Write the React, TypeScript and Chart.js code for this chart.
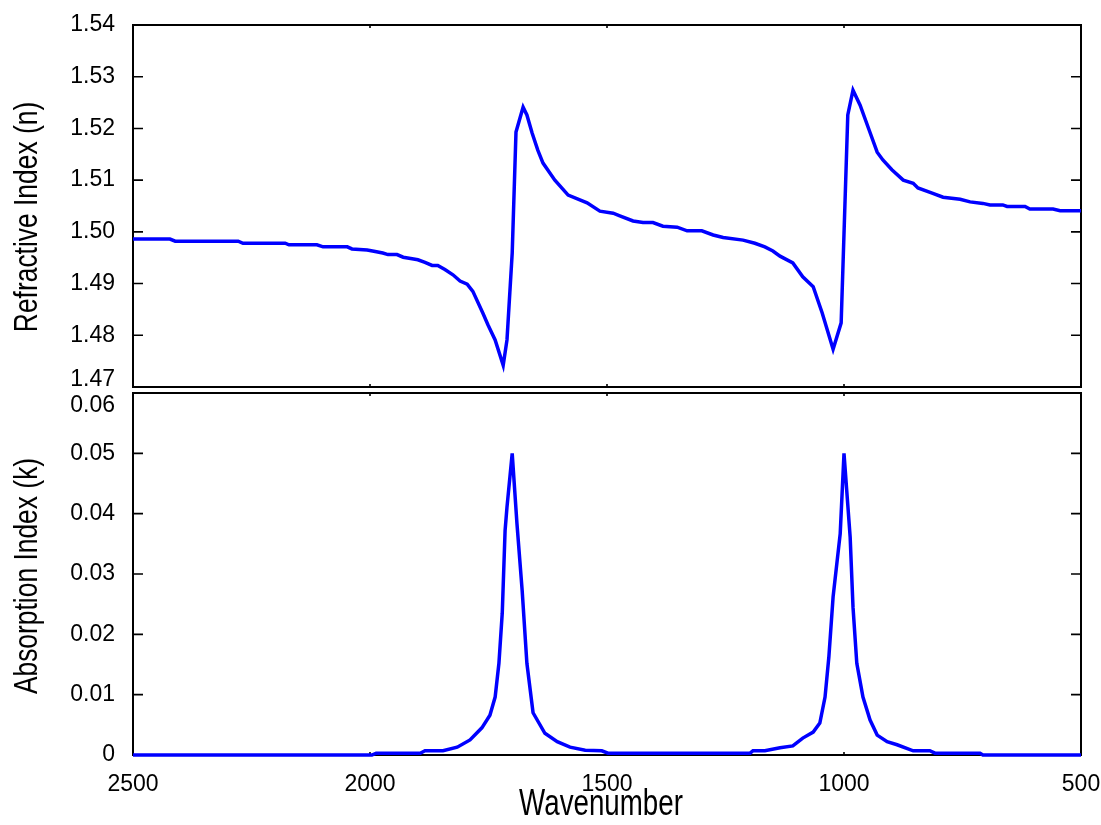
import React, { useEffect, useRef } from 'react';
import { Chart, registerables } from 'chart.js';

Chart.register(...registerables);

// Shared wavenumber axis (cm^-1), drawn high to low
const X_TICKS = [2500, 2000, 1500, 1000, 500];

// Refractive index n
const N_TICKS = [1.47, 1.48, 1.49, 1.5, 1.51, 1.52, 1.53, 1.54];
const N_WAVENUMBER = [
  2500, 2422, 2411, 2278, 2268, 2179, 2171, 2112, 2099, 2048, 2038, 2006, 1989, 1973, 1962, 1943,
  1930, 1911, 1899, 1884, 1869, 1857, 1842, 1825, 1810, 1795, 1783, 1762, 1751, 1736, 1719, 1711,
  1700, 1692, 1677, 1669, 1658, 1646, 1635, 1610, 1582, 1542, 1515, 1487, 1473, 1445, 1424, 1403,
  1382, 1352, 1331, 1300, 1276, 1255, 1213, 1188, 1167, 1150, 1135, 1108, 1087, 1065, 1046, 1023,
  1006, 992, 981, 966, 947, 930, 918, 899, 875, 854, 844, 814, 791, 755, 734, 707,
  692, 665, 656, 618, 608, 559, 544, 500,
];
const N_VALUES = [
  1.4986, 1.4986, 1.4982, 1.4982, 1.4978, 1.4978, 1.4975, 1.4975, 1.4971, 1.4971, 1.4967, 1.4965, 1.4962, 1.4959, 1.4956, 1.4956,
  1.4951, 1.4948, 1.4946, 1.4941, 1.4935, 1.4935, 1.4927, 1.4917, 1.4905, 1.4899, 1.4885, 1.4843, 1.482, 1.4791, 1.4742, 1.4791,
  1.4959, 1.5193, 1.5241, 1.5226, 1.5191, 1.5158, 1.5133, 1.51, 1.5071, 1.5056, 1.504, 1.5036, 1.5031, 1.5021, 1.5018, 1.5018,
  1.5011, 1.5009, 1.5002, 1.5002, 1.4994, 1.4989, 1.4984, 1.4978, 1.4971, 1.4963, 1.4953, 1.494, 1.4913, 1.4894, 1.4843, 1.4773,
  1.4824, 1.5226, 1.5274, 1.5245, 1.5197, 1.5154, 1.5139, 1.512, 1.51, 1.5094, 1.5085, 1.5075, 1.5067, 1.5063, 1.5058, 1.5055,
  1.5052, 1.5052, 1.5049, 1.5049, 1.5044, 1.5044, 1.5041, 1.5041,
];

// Absorption index k
const K_TICKS = [0, 0.01, 0.02, 0.03, 0.04, 0.05, 0.06];
const K_WAVENUMBER = [
  2500, 1996, 1987, 1894, 1884, 1846, 1816, 1789, 1764, 1747, 1736, 1728, 1721, 1715, 1711, 1700,
  1690, 1679, 1669, 1656, 1631, 1605, 1578, 1546, 1511, 1498, 1198, 1192, 1167, 1135, 1108, 1087,
  1065, 1051, 1040, 1032, 1023, 1008, 1000, 987, 981, 973, 960, 945, 930, 909, 888, 854,
  819, 808, 713, 707, 500,
];
const K_VALUES = [
  0, 0, 0.0003, 0.0003, 0.0007, 0.0007, 0.0013, 0.0025, 0.0045, 0.0066, 0.0096, 0.0152, 0.0235, 0.0372, 0.0411, 0.05,
  0.0384, 0.0273, 0.0152, 0.007, 0.0036, 0.0022, 0.0013, 0.0008, 0.0007, 0.0003, 0.0003, 0.0007, 0.0007, 0.0012, 0.0015, 0.0028,
  0.0038, 0.0053, 0.0096, 0.0162, 0.0262, 0.0367, 0.05, 0.0361, 0.0245, 0.0152, 0.0096, 0.0058, 0.0033, 0.0022, 0.0017, 0.0007,
  0.0007, 0.0003, 0.0003, 0, 0,
];

const LINE_COLOR = '#0000ff';
const TICK_FONT = "'Liberation Sans', Arial, sans-serif";
const TICK_SIZE = 23;

const near = (a: number, b: number) => Math.abs(a - b) < 1e-9;

// Box frame with inward tick marks on all four sides
const framePlugin = {
  id: 'frame',
  beforeDatasetsDraw(chart: any, _args: any, opts: any) {
    const { ctx, chartArea: a, scales } = chart;
    ctx.save();
    ctx.strokeStyle = '#000';
    ctx.lineWidth = 2;
    ctx.strokeRect(a.left, a.top, a.right - a.left, a.bottom - a.top);
    ctx.lineWidth = 1.6;
    ctx.beginPath();
    for (const v of opts.yTicks) {
      const py = scales.y.getPixelForValue(v);
      ctx.moveTo(a.left, py);
      ctx.lineTo(a.left + 10, py);
      ctx.moveTo(a.right, py);
      ctx.lineTo(a.right - 10, py);
    }
    for (const v of opts.xTicks) {
      const px = scales.x.getPixelForValue(v);
      ctx.moveTo(px, a.top);
      ctx.lineTo(px, a.top + 3);
      ctx.moveTo(px, a.bottom);
      ctx.lineTo(px, a.bottom - 3);
    }
    ctx.stroke();
    ctx.restore();
  },
};

// Narrow, light axis titles (condensed along the text direction)
function drawNarrowText(ctx: any, text: string, x: number, y: number, size: number, squeeze: number, rotate: boolean) {
  ctx.save();
  ctx.translate(x, y);
  if (rotate) ctx.rotate(-Math.PI / 2);
  ctx.scale(squeeze, 1);
  ctx.font = `${size}px ${TICK_FONT}`;
  ctx.fillStyle = '#000';
  ctx.textAlign = 'center';
  ctx.textBaseline = 'middle';
  ctx.fillText(text, 0, 0);
  ctx.restore();
}

const titlesPlugin = {
  id: 'axisTitles',
  afterDraw(chart: any, _args: any, opts: any) {
    const { ctx, chartArea: a } = chart;
    if (opts.y) {
      drawNarrowText(ctx, opts.y, 28, (a.top + a.bottom) / 2 + opts.yShift, 33, 0.8, true);
    }
    if (opts.x) {
      drawNarrowText(ctx, opts.x, (a.left + a.right) / 2 - 6, a.bottom + 50, 36, 0.77, false);
    }
  },
};

function fixedYAxis(scale: any) {
  scale.width = 133;
  scale.paddingTop = 0;
  scale.paddingBottom = 0;
}

function makeConfig(opts: {
  xs: number[];
  ys: number[];
  yTicks: number[];
  yMin: number;
  yMax: number;
  yTitle: string;
  yTitleShift: number;
  xTitle: string;
  yLabel: (v: number) => string;
  lowEdgeShift?: number;
  highEdgeShift?: number;
  showX: boolean;
  padding: any;
}) {
  const { xs, ys, yTicks, yMin, yMax } = opts;
  return {
    type: 'line' as const,
    data: {
      datasets: [
        {
          data: xs.map((x, i) => ({ x, y: ys[i] })),
          borderColor: LINE_COLOR,
          borderWidth: 3.5,
          pointRadius: 0,
          tension: 0,
          fill: false,
          clip: 6,
        },
      ],
    },
    options: {
      responsive: false,
      animation: false,
      devicePixelRatio: 1,
      layout: { padding: opts.padding },
      plugins: {
        legend: { display: false },
        tooltip: { enabled: false },
        frame: { xTicks: X_TICKS.slice(1, -1), yTicks },
        axisTitles: { y: opts.yTitle, yShift: opts.yTitleShift, x: opts.xTitle },
      },
      scales: {
        x: {
          type: 'linear',
          reverse: true,
          min: 500,
          max: 2500,
          display: opts.showX,
          afterBuildTicks: (scale: any) => {
            scale.ticks = X_TICKS.map((v) => ({ value: v }));
          },
          afterFit: (scale: any) => {
            if (opts.showX) scale.height = 70;
            scale.paddingLeft = 0;
            scale.paddingRight = 0;
          },
          grid: { display: false, drawTicks: false },
          border: { display: false },
          ticks: {
            color: '#000',
            padding: 16,
            maxRotation: 0,
            autoSkip: false,
            font: { family: TICK_FONT, size: TICK_SIZE },
            callback: (v: number) => String(v),
          },
        },
        y: {
          type: 'linear',
          min: yMin,
          max: yMax,
          afterBuildTicks: (scale: any) => {
            scale.ticks = yTicks.map((v) => ({ value: v }));
          },
          afterFit: fixedYAxis,
          grid: { display: false, drawTicks: false },
          border: { display: false },
          ticks: {
            color: '#000',
            padding: 18,
            autoSkip: false,
            font: (ctx: any) => {
              const v = ctx.tick ? ctx.tick.value : NaN;
              let lh = 1.2;
              if (opts.lowEdgeShift && near(v, yMin)) lh = opts.lowEdgeShift;
              if (opts.highEdgeShift && near(v, yMax)) lh = opts.highEdgeShift;
              return { family: TICK_FONT, size: TICK_SIZE, lineHeight: lh };
            },
            callback: (v: number) => {
              const s = opts.yLabel(v);
              if (opts.lowEdgeShift && near(v, yMin)) return [s, ''];
              if (opts.highEdgeShift && near(v, yMax)) return ['', s];
              return s;
            },
          },
        },
      },
    },
    plugins: [framePlugin, titlesPlugin],
  };
}

export default function App() {
  const topRef = useRef<HTMLCanvasElement | null>(null);
  const bottomRef = useRef<HTMLCanvasElement | null>(null);

  useEffect(() => {
    const top = new Chart(
      topRef.current as HTMLCanvasElement,
      makeConfig({
        xs: N_WAVENUMBER,
        ys: N_VALUES,
        yTicks: N_TICKS,
        yMin: 1.47,
        yMax: 1.54,
        yTitle: 'Refractive Index (n)',
        yTitleShift: 11,
        xTitle: '',
        yLabel: (v) => v.toFixed(2),
        lowEdgeShift: 0.64,
        showX: false,
        padding: { top: 25, right: 20, bottom: 3, left: 0 },
      }) as any
    );
    const bottom = new Chart(
      bottomRef.current as HTMLCanvasElement,
      makeConfig({
        xs: K_WAVENUMBER,
        ys: K_VALUES,
        yTicks: K_TICKS,
        yMin: 0,
        yMax: 0.06,
        yTitle: 'Absorption Index (k)',
        yTitleShift: 2,
        xTitle: 'Wavenumber',
        yLabel: (v) => (near(v, 0) ? '0' : v.toFixed(2)),
        highEdgeShift: 1.12,
        showX: true,
        padding: { top: 3, right: 20, bottom: 0, left: 0 },
      }) as any
    );
    return () => {
      top.destroy();
      bottom.destroy();
    };
  }, []);

  return (
    <div style={{ position: 'absolute', left: 0, top: 0, width: 1101, height: 825, background: '#fff' }}>
      <canvas ref={topRef} width={1101} height={390} style={{ position: 'absolute', left: 0, top: 0 }} />
      <canvas ref={bottomRef} width={1101} height={435} style={{ position: 'absolute', left: 0, top: 390 }} />
    </div>
  );
}
